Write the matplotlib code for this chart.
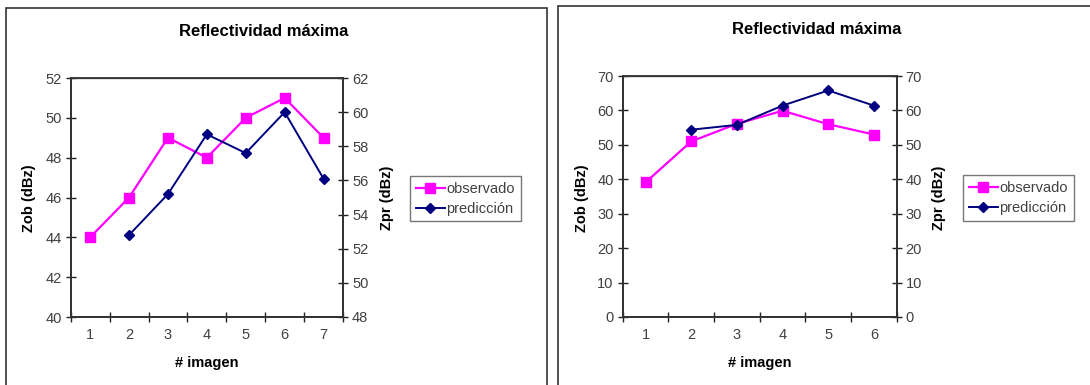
import matplotlib.pyplot as plt
from matplotlib.patches import Rectangle
from matplotlib.lines import Line2D

plt.rcParams['font.family'] = ['Liberation Sans', 'DejaVu Sans']

# left chart
img_a = [1, 2, 3, 4, 5, 6, 7]
obs_a = [44, 46, 49, 48, 50, 51, 49]
img_a_pr = [2, 3, 4, 5, 6, 7]
pred_a = [52.8, 55.2, 58.7, 57.6, 60.0, 56.1]

# right chart
img_b = [1, 2, 3, 4, 5, 6]
obs_b = [39.1, 51.0, 56.1, 59.9, 56.0, 53.0]
img_b_pr = [2, 3, 4, 5, 6]
pred_b = [54.4, 55.8, 61.4, 65.8, 61.4]

MAG = '#ff00ff'
NAVY = '#000080'
TXT = '#404040'
FS = 10.5

fig = plt.figure(figsize=(10.9, 3.85), dpi=100)
W, H = 1090., 385.

# panel frames (pixels)
fig.patches.append(Rectangle((6 / W, -0.05), (547 - 6) / W, 1.05 - 8 / H,
                             transform=fig.transFigure, fill=False,
                             edgecolor='#333333', lw=1.2))
fig.patches.append(Rectangle((558 / W, -0.05), 0.6, 1.05 - 6 / H,
                             transform=fig.transFigure, fill=False,
                             edgecolor='#333333', lw=1.2))


def make_chart(rect, x, obs, xp, pred, ylim1, ylim2, step1, step2,
               title_xy, xlab_xy, ylab1_x, ylab2_x, leg_xy):
    ax = fig.add_axes(rect)
    ax2 = ax.twinx()
    n = len(x)
    ax.plot(x, obs, color=MAG, marker='s', ms=6.5, lw=1.6, zorder=3)
    ax2.plot(xp, pred, color=NAVY, marker='D', ms=5.5, lw=1.4, zorder=3)
    ax.set_xlim(0.5, n + 0.5)
    ax.set_ylim(*ylim1)
    ax2.set_ylim(*ylim2)
    ax.set_yticks(range(ylim1[0], ylim1[1] + 1, step1))
    ax2.set_yticks(range(ylim2[0], ylim2[1] + 1, step2))
    ax.set_xticks([i + 0.5 for i in range(0, n + 1)], minor=False)
    ax.set_xticklabels([])
    ax.set_xticks(x, minor=True)
    ax.set_xticklabels([str(v) for v in x], minor=True)
    ax.tick_params(axis='x', which='major', direction='inout', length=7,
                   width=1, color='#222222')
    ax.tick_params(axis='x', which='minor', length=0, pad=8,
                   labelsize=FS, labelcolor=TXT)
    ax.tick_params(axis='y', direction='inout', length=7, width=1,
                   color='#222222', labelsize=FS, labelcolor=TXT, pad=3)
    ax2.tick_params(axis='y', direction='inout', length=7, width=1,
                    color='#222222', labelsize=FS, labelcolor=TXT, pad=3)
    for a in (ax, ax2):
        for s in a.spines.values():
            s.set_color('#333333')
            s.set_linewidth(1.3)
    ax.spines['top'].set_color('#666666')
    ax.spines['top'].set_linewidth(1.0)

    fig.text(title_xy[0] / W, 1 - title_xy[1] / H, 'Reflectividad máxima',
             ha='center', va='center', fontsize=12, fontweight='bold')
    fig.text(xlab_xy[0] / W, 1 - xlab_xy[1] / H, '# imagen',
             ha='center', va='center', fontsize=FS, fontweight='bold')
    fig.text(ylab1_x / W, 1 - 198 / H, 'Zob (dBz)', rotation=90,
             ha='center', va='center', fontsize=FS, fontweight='bold')
    fig.text(ylab2_x / W, 1 - 198 / H, 'Zpr (dBz)', rotation=90,
             ha='center', va='center', fontsize=FS, fontweight='bold')

    handles = [Line2D([], [], color=MAG, marker='s', ms=6.5, lw=1.6),
               Line2D([], [], color=NAVY, marker='D', ms=5.5, lw=1.4)]
    leg = fig.legend(handles, ['observado', 'predicción'],
                     loc='upper left',
                     bbox_to_anchor=(leg_xy[0] / W, 1 - leg_xy[1] / H),
                     bbox_transform=fig.transFigure,
                     fontsize=FS, frameon=True, fancybox=False,
                     borderpad=0.4, handlelength=2.0, handletextpad=0.1,
                     labelspacing=0.4, borderaxespad=0)
    leg.get_frame().set_edgecolor('#555555')
    leg.get_frame().set_linewidth(1.0)
    for t in leg.get_texts():
        t.set_color(TXT)
    return ax


make_chart([70.7 / W, 1 - 317 / H, 272.3 / W, 239 / H],
           img_a, obs_a, img_a_pr, pred_a, (40, 52), (48, 62), 2, 2,
           (264, 31), (207, 363), 29, 387, (410, 176))

make_chart([622.7 / W, 1 - 317 / H, 274 / W, 241 / H],
           img_b, obs_b, img_b_pr, pred_b, (0, 70), (0, 70), 10, 10,
           (817, 29), (760, 363), 582, 939, (963, 175))

fig.savefig('out.png', dpi=100)
